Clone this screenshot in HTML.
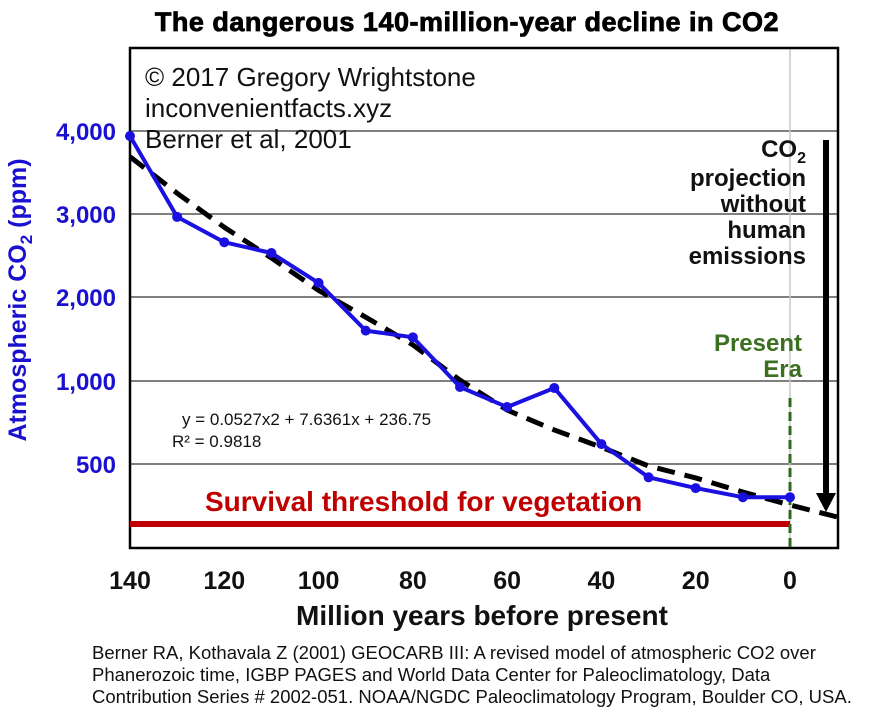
<!DOCTYPE html>
<html><head><meta charset="utf-8"><style>
body{margin:0;background:#fff;}
svg text{font-family:"Liberation Sans",Arial,sans-serif;}
</style></head><body>
<svg id="chart" width="896" height="720" viewBox="0 0 896 720" xmlns="http://www.w3.org/2000/svg">
<text x="467" y="31" text-anchor="middle" font-size="27" font-weight="bold" fill="#000" stroke="#000" stroke-width="0.8" letter-spacing="0.5">The dangerous 140-million-year decline in CO2</text>
<g id="grid"></g>
<line x1="790" y1="48" x2="790" y2="548" stroke="#c8c8c8" stroke-width="1.5"/>
<rect x="130" y="48" width="708" height="500" fill="none" stroke="#000" stroke-width="2.5"/>
<text x="145" y="86" font-size="26" fill="#111">© 2017 Gregory Wrightstone</text>
<text x="145" y="117" font-size="26" fill="#111">inconvenientfacts.xyz</text>
<text x="145" y="148" font-size="26" fill="#111">Berner et al, 2001</text>
<g id="yticks"></g>
<text transform="translate(26,300) rotate(-90)" text-anchor="middle" font-size="25" font-weight="bold" fill="#1a10d0">Atmospheric CO<tspan font-size="17" dy="6">2</tspan><tspan dy="-6"> (ppm)</tspan></text>
<line x1="130" y1="524" x2="790" y2="524" stroke="#c00000" stroke-width="6"/>
<text x="205" y="511" font-size="28" font-weight="bold" fill="#c00000">Survival threshold for vegetation</text>
<line x1="790" y1="398" x2="790" y2="548" stroke="#2e6b1e" stroke-width="3" stroke-dasharray="9,5"/>
<text x="802" y="351" text-anchor="end" font-size="24" font-weight="bold" fill="#3a7020">Present</text>
<text x="802" y="377" text-anchor="end" font-size="24" font-weight="bold" fill="#3a7020">Era</text>
<g id="trend"></g>
<g id="series"></g>
<line x1="826" y1="140" x2="826" y2="495" stroke="#000" stroke-width="6"/>
<polygon points="816,493 836,493 826,512" fill="#000"/>
<g font-size="24" font-weight="bold" fill="#111" text-anchor="end">
<text x="806" y="157">CO<tspan font-size="16" dy="6">2</tspan></text>
<text x="806" y="186">projection</text>
<text x="806" y="212">without</text>
<text x="806" y="238">human</text>
<text x="806" y="264">emissions</text>
</g>
<text x="182" y="425" font-size="17" fill="#111">y = 0.0527x2 + 7.6361x + 236.75</text>
<text x="172" y="447" font-size="17" fill="#111">R² = 0.9818</text>
<g id="xticks"></g>
<text x="482" y="625" text-anchor="middle" font-size="28" font-weight="bold" fill="#111">Million years before present</text>
<g font-size="18.5" fill="#111">
<text x="92" y="659">Berner RA, Kothavala Z (2001) GEOCARB III: A revised model of atmospheric CO2 over</text>
<text x="92" y="681">Phanerozoic time, IGBP PAGES and World Data Center for Paleoclimatology, Data</text>
<text x="92" y="703">Contribution Series # 2002-051. NOAA/NGDC Paleoclimatology Program, Boulder CO, USA.</text>
</g>
</svg>
<script>
const years = [140,130,120,110,100,90,80,70,60,50,40,30,20,10,0];
const co2 = [3940,2965,2660,2530,2170,1600,1520,964,843,958,620,420,355,300,300];
const trendYears = [140,130,120,110,100,90,80,70,60,50,40,30,20,10,0,-10];
const trendCo2 = [3690,3250,2840,2470,2080,1760,1430,1010,825,705,601,488,416,331,253,181];
const yTickValues = [4000,3000,2000,1000,500];
const yTickLabels = ['4,000','3,000','2,000','1,000','500'];
const xTickValues = [140,120,100,80,60,40,20,0];

const NS='http://www.w3.org/2000/svg';
const levelVals=[500,1000,2000,3000,4000], levelPix=[464,381,297,214,131];
function yScale(v){
  if(v<=500) return 464+(500-v)/500*83;
  for(let i=0;i<4;i++){ if(v<=levelVals[i+1]) return levelPix[i]+(v-levelVals[i])/(levelVals[i+1]-levelVals[i])*(levelPix[i+1]-levelPix[i]); }
  return 131-(v-4000)/1000*83;
}
function xScale(yr){ return 790-yr*(660/140); }
function mk(tag,attrs,parent){const e=document.createElementNS(NS,tag);for(const k in attrs)e.setAttribute(k,attrs[k]);parent.appendChild(e);return e;}

const grid=document.getElementById('grid'), yt=document.getElementById('yticks');
yTickValues.forEach((v,i)=>{
  const l=mk('line',{x1:130,x2:838,y1:yScale(v),y2:yScale(v),stroke:'#333','stroke-width':1.3},grid);
  
  
  const t=mk('text',{x:116,y:yScale(v)+9,'text-anchor':'end','font-size':24,'font-weight':'bold',fill:'#1a10d0'},yt);
  t.textContent=yTickLabels[i];
  
  
});
const xt=document.getElementById('xticks');
xTickValues.forEach(v=>{
  const t=mk('text',{x:xScale(v),y:589,'text-anchor':'middle','font-size':25,'font-weight':'bold',fill:'#111'},xt);
  t.textContent=String(v);
  
  
});
const tr=document.getElementById('trend');
const tp=mk('polyline',{points:trendYears.map((y,i)=>xScale(y)+','+yScale(trendCo2[i])).join(' '),fill:'none',stroke:'#000','stroke-width':5,'stroke-dasharray':'18,10'},tr);


const s=document.getElementById('series');
const sp=mk('polyline',{points:years.map((y,i)=>xScale(y)+','+yScale(co2[i])).join(' '),fill:'none',stroke:'#1a10e0','stroke-width':4,'stroke-linejoin':'round'},s);


years.forEach((y,i)=>{
  const c=mk('circle',{cx:xScale(y),cy:yScale(co2[i]),r:5,fill:'#1a10e0'},s);
  
  
});
</script>
</body></html>
